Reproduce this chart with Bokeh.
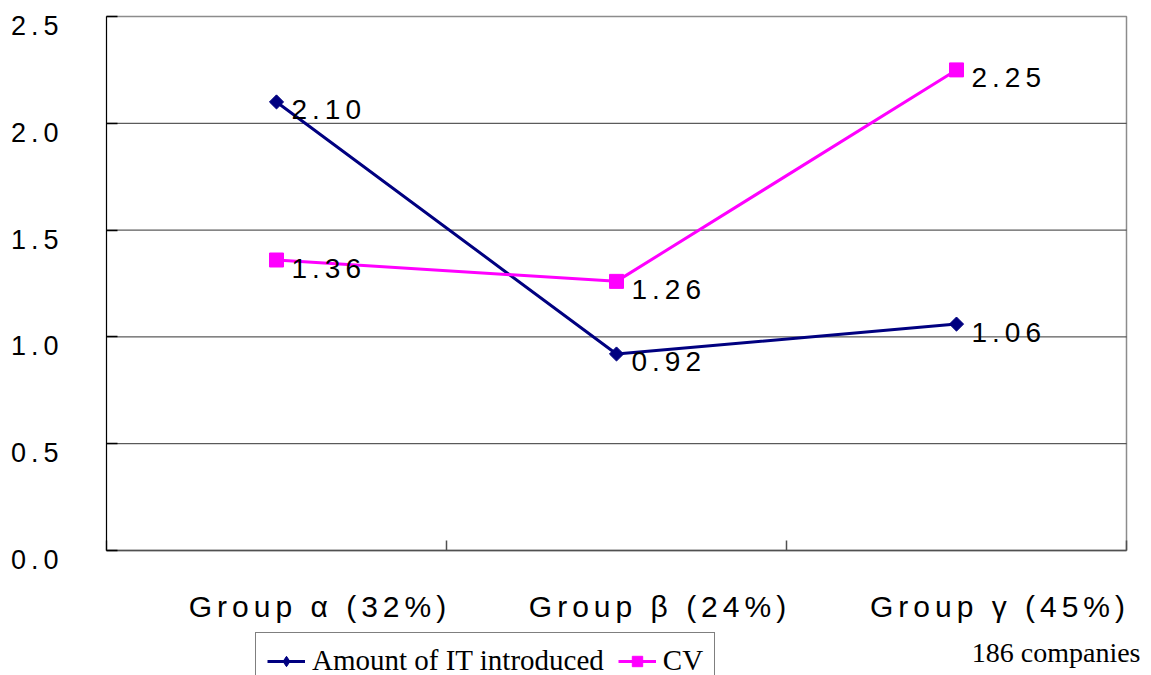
from bokeh.plotting import figure
from bokeh.models import (ColumnDataSource, LabelSet, Label, Legend, LegendItem,
                          FixedTicker, Range1d, LinearAxis)
from bokeh.core.properties import value
from bokeh.layouts import column
from bokeh.embed import file_html
from bokeh.resources import INLINE
import math

# --- data -------------------------------------------------------------------
groups = ["Group α (32%)", "Group β (24%)", "Group γ (45%)"]
it_introduced = [2.10, 0.92, 1.06]
cv = [1.36, 1.26, 2.25]
y_ticks = [0.0, 0.5, 1.0, 1.5, 2.0, 2.5]
legend_labels = ["Amount of IT introduced", "CV"]
note = "186 companies"

# --- styling ----------------------------------------------------------------
NAVY = "#000080"
MAGENTA = "#FF00FF"
SANS = "Liberation Sans"
SERIF = "Liberation Serif"

# chart canvas and the pixel box of the plotting area inside it
W, H = 1151, 630
PLOT_L, PLOT_R, PLOT_T, PLOT_B = 106, 1126, 16, 550

n = len(groups)
centers = [i + 0.5 for i in range(n)]          # category centres
boundaries = list(range(n + 1))                # category edges (tick marks)

px_x = (PLOT_R - PLOT_L) / n
px_y = (PLOT_B - PLOT_T) / (y_ticks[-1] - y_ticks[0])
x_range = Range1d(-PLOT_L / px_x, n + (W - PLOT_R) / px_x)
y_range = Range1d(y_ticks[0] - (H - PLOT_B) / px_y, y_ticks[-1] + PLOT_T / px_y)

src_it = ColumnDataSource(dict(x=centers, y=it_introduced,
                               label=[f"{v:.2f}" for v in it_introduced]))
src_cv = ColumnDataSource(dict(x=centers, y=cv,
                               label=[f"{v:.2f}" for v in cv]))
src_cat = ColumnDataSource(dict(x=centers, y=[y_ticks[0]] * n, label=groups))
src_yt = ColumnDataSource(dict(x=[0] * len(y_ticks), y=y_ticks,
                               label=[f"{v:.1f}" for v in y_ticks]))
src_grid = ColumnDataSource(dict(y=y_ticks[1:-1]))

p = figure(width=W, height=H, output_backend="svg", toolbar_location=None,
           x_range=x_range, y_range=y_range,
           x_axis_type=None, y_axis_type=None,
           min_border=0, min_border_left=0, min_border_right=0,
           min_border_top=0, min_border_bottom=0,
           background_fill_color="white", border_fill_color="white",
           outline_line_color=None,
           styles={"letter-spacing": "5px"})

# plot-area frame (top and right edges show; left/bottom are covered by axes)
p.quad(left=0, right=n, bottom=y_ticks[0], top=y_ticks[-1],
       fill_color=None, line_color="#8c8c8c", line_width=1.5)

# horizontal gridlines
p.segment(x0=0, x1=n, y0="y", y1="y", source=src_grid,
          line_color="#333333", line_width=1)

# axes: inward ticks, labels drawn separately
xaxis = LinearAxis(ticker=FixedTicker(ticks=boundaries), fixed_location=y_ticks[0],
                   bounds=(0, n), major_label_overrides={b: "" for b in boundaries},
                   major_tick_in=10, major_tick_out=0, minor_tick_line_color=None,
                   axis_line_color="#505050", axis_line_width=1.5,
                   major_tick_line_color="#505050", major_tick_line_width=1.5)
p.add_layout(xaxis, "below")

yaxis = LinearAxis(ticker=FixedTicker(ticks=y_ticks), fixed_location=0,
                   bounds=(y_ticks[0], y_ticks[-1]),
                   major_label_overrides={t: "" for t in y_ticks},
                   major_tick_in=11, major_tick_out=0, minor_tick_line_color=None,
                   axis_line_color="black", axis_line_width=1,
                   major_tick_line_color="black", major_tick_line_width=1.5)
p.add_layout(yaxis, "left")

# series
p.line("x", "y", source=src_it, color=NAVY, line_width=3)
p.scatter("x", "y", source=src_it, marker="square", angle=math.pi / 4,
          size=10, color=NAVY)
p.line("x", "y", source=src_cv, color=MAGENTA, line_width=3)
p.scatter("x", "y", source=src_cv, marker="square", size=14, color=MAGENTA)

# value labels
for src in (src_it, src_cv):
    p.add_layout(LabelSet(x="x", y="y", text="label", source=src,
                          x_offset=15, y_offset=-8,
                          text_align="left", text_baseline="middle",
                          text_font=value(SANS), text_font_size=value("28px"),
                          text_color="black"))

# category labels under the axis
p.add_layout(LabelSet(x="x", y="y", text="label", source=src_cat,
                      x_offset=11, y_offset=-56,
                      text_align="center", text_baseline="middle",
                      text_font=value(SANS), text_font_size=value("30px"),
                      text_color="black"))

# y tick labels
p.add_layout(LabelSet(x="x", y="y", text="label", source=src_yt,
                      x_offset=-58, y_offset=-9,
                      text_align="right", text_baseline="middle",
                      text_font=value(SANS), text_font_size=value("27px"),
                      text_color="black"))

# --- legend strip -----------------------------------------------------------
H2 = 45
p2 = figure(width=W, height=H2, output_backend="svg", toolbar_location=None,
            x_range=Range1d(0, W), y_range=Range1d(0, H2),
            x_axis_type=None, y_axis_type=None,
            min_border=0, min_border_left=0, min_border_right=0,
            min_border_top=0, min_border_bottom=0,
            outline_line_color=None, background_fill_color="white",
            border_fill_color="white")

l1 = p2.line("x", "y", source=src_it, color=NAVY, line_width=3, visible=False)
m1 = p2.scatter("x", "y", source=src_it, marker="diamond", size=14, color=NAVY,
                visible=False)
l2 = p2.line("x", "y", source=src_cv, color=MAGENTA, line_width=3, visible=False)
m2 = p2.scatter("x", "y", source=src_cv, marker="square", size=12, color=MAGENTA,
                visible=False)

legend = Legend(items=[LegendItem(label=legend_labels[0], renderers=[l1, m1]),
                       LegendItem(label=legend_labels[1], renderers=[l2, m2])],
                orientation="horizontal", location=(255, -14), margin=0,
                padding=11, spacing=14, label_standoff=7,
                glyph_width=38, glyph_height=26, label_height=26,
                label_text_font=SERIF, label_text_font_size="29px",
                label_text_color="black",
                border_line_color="black", border_line_width=1,
                background_fill_color="white", background_fill_alpha=1)
p2.add_layout(legend)

p2.add_layout(Label(x=1140, y=23, text=note, text_align="right",
                    text_baseline="middle", text_font=SERIF,
                    text_font_size="28px", text_color="black"))

layout = column(p, p2, spacing=0)
open("out.html", "w").write(file_html(layout, INLINE))
